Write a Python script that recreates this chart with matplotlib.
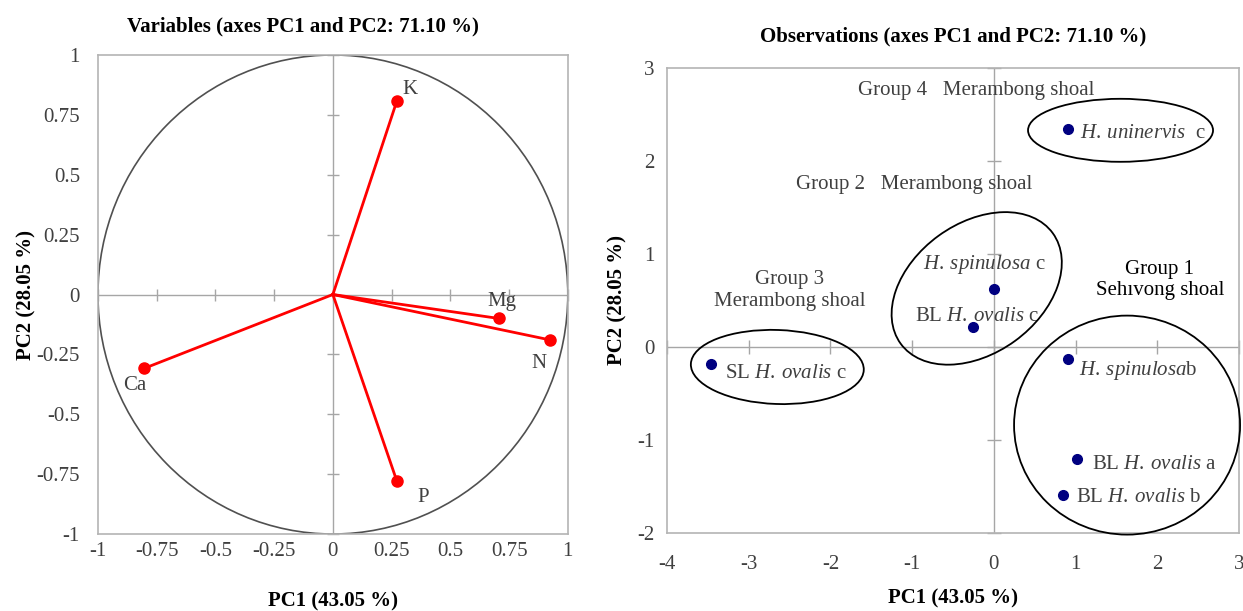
import numpy as np
import matplotlib
matplotlib.use("Agg")
import matplotlib.pyplot as plt
from matplotlib.patches import Circle, Ellipse
from matplotlib.transforms import ScaledTranslation

# variables (correlation circle)
varNames = ["K", "Mg", "N", "Ca", "P"]
varPC1 = [0.272, 0.706, 0.926, -0.802, 0.272]
varPC2 = [0.807, -0.100, -0.190, -0.308, -0.778]

# observations
obsLabels = [r"$\mathit{H.\:uninervis}$  c",
             r"$\mathit{H.\:spinulosa}$ c",
             r"BL $\mathit{H.\:ovalis}$ c",
             r"SL $\mathit{H.\:ovalis}$ c",
             r"$\mathit{H.\:spinulosa}$b",
             r"BL $\mathit{H.\:ovalis}$ a",
             r"BL $\mathit{H.\:ovalis}$ b"]
obsPC1 = [0.91, 0.00, -0.26, -3.46, 0.91, 1.02, 0.84]
obsPC2 = [2.34, 0.62, 0.21, -0.18, -0.13, -1.20, -1.59]

groupNames = ["Group 4   Merambong shoal", "Group 2   Merambong shoal",
              "Group 3\nMerambong shoal", "Group 1\nSehıvong shoal"]
groupTextPC1 = [-0.22, -0.97, -2.50, 2.03]
groupTextPC2 = [2.76, 1.75, 0.61, 0.72]
groupCentrePC1 = [1.55, -0.21, -2.65, 1.63]
groupCentrePC2 = [2.33, 0.63, -0.215, -0.84]

plt.rcParams["font.family"] = ["Liberation Serif", "DejaVu Serif"]
plt.rcParams["mathtext.fontset"] = "custom"
plt.rcParams["mathtext.rm"] = "Liberation Serif"
plt.rcParams["mathtext.it"] = "Liberation Serif:italic"
plt.rcParams["axes.unicode_minus"] = False

frameGray = "#b4b4b4"
zeroGray = "#a6a6a6"
textGray = "#404040"
fs = 15

fig = plt.figure(figsize=(12.43, 6.11), dpi=100)

def styleAxes(ax, xticks, yticks, tickLen, xpad, ypad):
    for s in ax.spines.values():
        s.set_color(frameGray)
        s.set_linewidth(1.2)
    ax.axhline(0, color=zeroGray, lw=1.0, zorder=1)
    ax.axvline(0, color=zeroGray, lw=1.0, zorder=1)
    ax.plot(xticks, np.zeros(len(xticks)), ls="none", marker="|", ms=tickLen,
            color=zeroGray, mew=1.0, zorder=1, clip_on=False)
    ax.plot(np.zeros(len(yticks)), yticks, ls="none", marker="_", ms=tickLen,
            color=zeroGray, mew=1.0, zorder=1, clip_on=False)
    ax.set_xticks(xticks)
    ax.set_yticks(yticks)
    ax.tick_params(length=0, labelsize=fs, labelcolor=textGray)
    ax.tick_params(axis="x", pad=xpad)
    ax.tick_params(axis="y", pad=ypad)

# ---- left: variables ----
ax1 = fig.add_axes([0.0788, 0.126, 0.378, 0.784])
lticks = [-1, -0.75, -0.5, -0.25, 0, 0.25, 0.5, 0.75, 1]
lticklabels = ["-1", "-0.75", "-0.5", "-0.25", "0", "0.25", "0.5", "0.75", "1"]
styleAxes(ax1, lticks, lticks, 9, 6, 13)
ax1.set_xticklabels(lticklabels)
ax1.set_yticklabels(lticklabels)
ax1.add_patch(Circle((0, 0), 1, fill=False, ec="#505050", lw=1.2, zorder=2))
labelOffsets = [(13, 12), (3, 17), (-11, -23), (-10, -17), (26, -17)]
for name, x, y, off in zip(varNames, varPC1, varPC2, labelOffsets):
    ax1.plot([0, x], [0, y], color="#ff0000", lw=2, zorder=3)
    ax1.plot(x, y, "o", color="#ff0000", ms=8, zorder=4)
    ax1.annotate(name, (x, y), xytext=off, textcoords="offset pixels",
                 ha="center", va="center", fontsize=fs, color=textGray)
ax1.set_xlim(-1, 1)
ax1.set_ylim(-1, 1)
ax1.set_title("Variables (axes PC1 and PC2: 71.10 %)", fontsize=fs,
              fontweight="bold", pad=17, x=0.436)
ax1.set_xlabel("PC1 (43.05 %)", fontsize=fs, fontweight="bold", labelpad=22)
ax1.set_ylabel("PC2 (28.05 %)", fontsize=fs, fontweight="bold", labelpad=0)

# ---- right: observations ----
ax2 = fig.add_axes([0.5366, 0.1277, 0.4602, 0.761])
styleAxes(ax2, [-4, -3, -2, -1, 0, 1, 2, 3], [-2, -1, 0, 1, 2, 3], 10, 16, 9)
ax2.set_xlim(-4, 3)
ax2.set_ylim(-2, 3)
ax2.plot(obsPC1, obsPC2, "o", color="#000080", ms=7, zorder=4)
obsOffsets = [(12, -4), (-71, 25), (-58, 11), (14, -10), (11, -11), (15, -6), (13, -3)]
for lab, x, y, off in zip(obsLabels, obsPC1, obsPC2, obsOffsets):
    ax2.annotate(lab, (x, y), xytext=off, textcoords="offset pixels",
                 ha="left", va="center", fontsize=fs, color=textGray)

groupColours = [textGray, textGray, textGray, "black"]
for name, x, y, c in zip(groupNames, groupTextPC1, groupTextPC2, groupColours):
    ax2.text(x, y, name, ha="center", va="center", fontsize=fs, color=c,
             linespacing=1.2)

# ellipse sizes in pixels (w, h, angle)
ellipseShapes = [(185, 63, 0), (188, 130, 36), (173, 74, -2), (226, 219, 0)]
for cx, cy, (w, h, ang) in zip(groupCentrePC1, groupCentrePC2, ellipseShapes):
    tr = fig.dpi_scale_trans + ScaledTranslation(cx, cy, ax2.transData)
    ax2.add_patch(Ellipse((0, 0), w / 100, h / 100, angle=ang, fill=False,
                          ec="black", lw=1.3, transform=tr, zorder=3,
                          clip_on=False))

ax2.set_title("Observations (axes PC1 and PC2: 71.10 %)", fontsize=fs,
              fontweight="bold", pad=19)
ax2.set_xlabel("PC1 (43.05 %)", fontsize=fs, fontweight="bold", labelpad=10)
ax2.set_ylabel("PC2 (28.05 %)", fontsize=fs, fontweight="bold", labelpad=7)

fig.savefig("out.png", dpi=100)
